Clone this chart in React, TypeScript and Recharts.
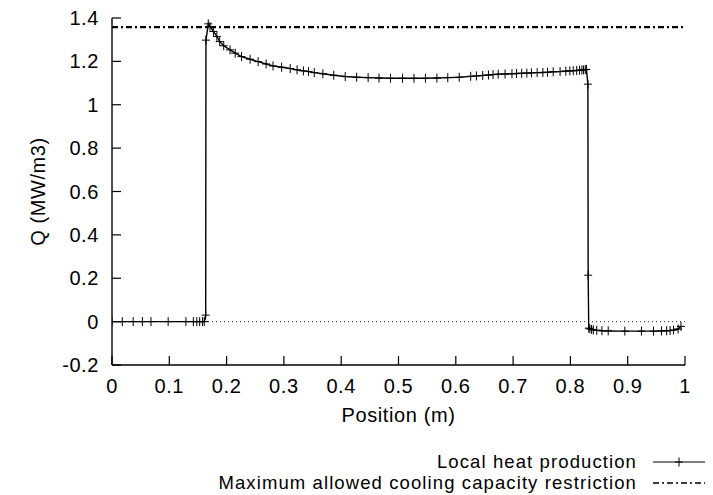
import {
  ComposedChart,
  Line,
  XAxis,
  YAxis,
  ReferenceLine,
  Legend,
} from "recharts";

// position along the reactor (m)
const positions = [
  0, 0.018, 0.037, 0.053, 0.068, 0.098, 0.129, 0.142, 0.148, 0.153, 0.158,
  0.161, 0.1635, 0.164, 0.168, 0.171, 0.177, 0.183, 0.188, 0.195, 0.206,
  0.215, 0.226, 0.241, 0.255, 0.269, 0.281, 0.296, 0.311, 0.323, 0.334, 0.343,
  0.353, 0.368, 0.387, 0.407, 0.427, 0.447, 0.466, 0.486, 0.507, 0.527, 0.547,
  0.567, 0.586, 0.606, 0.626, 0.636, 0.647, 0.657, 0.665, 0.674, 0.686, 0.698,
  0.706, 0.715, 0.724, 0.732, 0.742, 0.752, 0.76, 0.77, 0.782, 0.792, 0.799,
  0.805, 0.811, 0.816, 0.82, 0.823, 0.826, 0.828, 0.8305, 0.831, 0.832, 0.834,
  0.837, 0.84, 0.846, 0.855, 0.866, 0.895, 0.924, 0.945, 0.959, 0.968, 0.974,
  0.98, 0.988, 0.993,
];

// local heat production Q (MW/m3)
const heatValues = [
  0, 0, 0, 0, 0, 0, 0, 0, 0, 0, 0, 0, 0.03, 1.298, 1.373, 1.361, 1.338, 1.315,
  1.291, 1.272, 1.253, 1.238, 1.222, 1.21, 1.199, 1.188, 1.179, 1.173, 1.167,
  1.161, 1.156, 1.153, 1.148, 1.143, 1.136, 1.13, 1.127, 1.125, 1.123, 1.122,
  1.122, 1.122, 1.122, 1.123, 1.125, 1.127, 1.131, 1.133, 1.135, 1.137, 1.139,
  1.141, 1.142, 1.143, 1.144, 1.145, 1.146, 1.147, 1.148, 1.149, 1.15, 1.152,
  1.153, 1.155, 1.156, 1.157, 1.158, 1.159, 1.16, 1.161, 1.162, 1.163, 1.095,
  0.214, -0.03, -0.033, -0.036, -0.038, -0.04, -0.042, -0.043, -0.044, -0.044,
  -0.044, -0.043, -0.042, -0.041, -0.039, -0.034, -0.022,
];

// cooling capacity restriction
const limitPositions = [0, 1];
const limitValue = 1.358;

const xTicks = [0, 0.1, 0.2, 0.3, 0.4, 0.5, 0.6, 0.7, 0.8, 0.9, 1];
const yTicks = [-0.2, 0, 0.2, 0.4, 0.6, 0.8, 1, 1.2, 1.4];

const heatData = positions.map((x, i) => ({ x, q: heatValues[i] }));
const limitData = limitPositions.map((x) => ({ x, limit: limitValue }));

const FONT = '"Liberation Sans", Arial, Helvetica, sans-serif';
const textStyle = { fontFamily: FONT, fontSize: 20, letterSpacing: 0.6 };
const legendText = { fontFamily: FONT, fontSize: 18.5, letterSpacing: 1.1 };

const PlusDot = (props: any) => {
  const { cx, cy, index } = props;
  if (cx == null || cy == null) return <g key={index} />;
  return (
    <path
      key={index}
      d={`M${cx - 4},${cy}H${cx + 4}M${cx},${cy - 4.5}V${cy + 4.5}`}
      stroke="#000"
      strokeWidth={1}
      fill="none"
    />
  );
};

const BottomTick = (props: any) => {
  const { x, y, payload } = props;
  return (
    <g>
      <line x1={x} y1={y} x2={x} y2={y - 9} stroke="#000" strokeWidth={1.2} />
      <text x={x} y={y + 28} textAnchor="middle" fill="#000" style={textStyle}>
        {String(payload.value)}
      </text>
    </g>
  );
};

const LeftTick = (props: any) => {
  const { x, y, payload } = props;
  return (
    <g>
      <line x1={x} y1={y} x2={x + 9} y2={y} stroke="#000" strokeWidth={1.2} />
      <text x={x - 13} y={y + 7} textAnchor="end" fill="#000" style={textStyle}>
        {String(payload.value)}
      </text>
    </g>
  );
};

const legendRows = [
  { label: "Local heat production", dash: undefined, width: 1, plus: true },
  {
    label: "Maximum allowed cooling capacity restriction",
    dash: "6 3 2 3",
    width: 1.6,
    plus: false,
  },
];

const LegendBox = () => (
  <div style={{ position: "relative", width: 713, height: 42, ...legendText }}>
    {legendRows.map((row, i) => (
      <div
        key={row.label}
        style={{ position: "absolute", top: i * 21, left: 0, width: 713, height: 21 }}
      >
        <span
          style={{
            position: "absolute",
            right: 76,
            top: 0,
            height: 21,
            lineHeight: "21px",
            whiteSpace: "nowrap",
            color: "#000",
          }}
        >
          {row.label}
        </span>
        <svg
          width={54}
          height={21}
          style={{ position: "absolute", left: 652, top: 0 }}
        >
          <line
            x1={1}
            y1={11}
            x2={53}
            y2={11}
            stroke="#000"
            strokeWidth={row.width}
            strokeDasharray={row.dash}
          />
          {row.plus && (
            <path d="M23,11H31M27,6.5V15.5" stroke="#000" strokeWidth={1} />
          )}
        </svg>
      </div>
    ))}
  </div>
);

export default function App() {
  return (
    <div style={{ position: "absolute", left: 0, top: 0, background: "#fff" }}>
      <ComposedChart
        width={713}
        height={495}
        data={heatData}
        margin={{ top: 18, right: 28, bottom: 70, left: 0 }}
      >
        <XAxis
          xAxisId="bottom"
          dataKey="x"
          type="number"
          domain={[0, 1]}
          ticks={xTicks}
          allowDataOverflow
          height={60}
          tickSize={0}
          tickMargin={0}
          tickLine={false}
          tick={<BottomTick />}
          axisLine={{ stroke: "#000", strokeWidth: 1.4 }}
          label={{
            content: (p: any) => {
              const vb = p.viewBox;
              return (
                <text
                  x={vb.x + vb.width / 2}
                  y={vb.y + 57}
                  textAnchor="middle"
                  fill="#000"
                  style={textStyle}
                >
                  Position (m)
                </text>
              );
            },
          }}
        />
        <XAxis
          xAxisId="top"
          orientation="top"
          dataKey="x"
          type="number"
          domain={[0, 1]}
          ticks={xTicks}
          allowDataOverflow
          height={0}
          mirror
          tickSize={9}
          tick={false}
          tickLine={{ stroke: "#000", strokeWidth: 1.2 }}
          axisLine={{ stroke: "#000", strokeWidth: 1.4 }}
        />
        <YAxis
          yAxisId="left"
          type="number"
          domain={[-0.2, 1.4]}
          ticks={yTicks}
          allowDataOverflow
          width={112}
          tickSize={0}
          tickMargin={0}
          tickLine={false}
          tick={<LeftTick />}
          axisLine={{ stroke: "#000", strokeWidth: 1.4 }}
          label={{
            content: (p: any) => {
              const vb = p.viewBox;
              const cx = vb.x + 38;
              const cy = vb.y + vb.height / 2;
              return (
                <text
                  x={cx}
                  y={cy}
                  transform={`rotate(-90, ${cx}, ${cy})`}
                  textAnchor="middle"
                  dominantBaseline="central"
                  fill="#000"
                  style={textStyle}
                >
                  Q (MW/m3)
                </text>
              );
            },
          }}
        />
        <YAxis
          yAxisId="right"
          orientation="right"
          type="number"
          domain={[-0.2, 1.4]}
          ticks={yTicks}
          allowDataOverflow
          width={0}
          mirror
          tickSize={9}
          tick={false}
          tickLine={{ stroke: "#000", strokeWidth: 1.2 }}
          axisLine={{ stroke: "#000", strokeWidth: 1.4 }}
        />
        <ReferenceLine
          xAxisId="bottom"
          yAxisId="left"
          y={0}
          stroke="#333"
          strokeWidth={1}
          strokeDasharray="1 3"
        />
        <Line
          xAxisId="bottom"
          yAxisId="left"
          type="linear"
          dataKey="q"
          stroke="#000"
          strokeWidth={1.4}
          dot={PlusDot}
          activeDot={false}
          isAnimationActive={false}
          legendType="none"
        />
        <Line
          xAxisId="bottom"
          yAxisId="left"
          type="linear"
          data={limitData}
          dataKey="limit"
          stroke="#000"
          strokeWidth={2.2}
          strokeDasharray="6 3 2 3"
          dot={false}
          activeDot={false}
          isAnimationActive={false}
          legendType="none"
        />
        <Legend
          layout="vertical"
          align="center"
          verticalAlign="middle"
          content={<LegendBox />}
          wrapperStyle={{ position: "absolute", left: 0, top: 451, width: 713 }}
        />
      </ComposedChart>
    </div>
  );
}
